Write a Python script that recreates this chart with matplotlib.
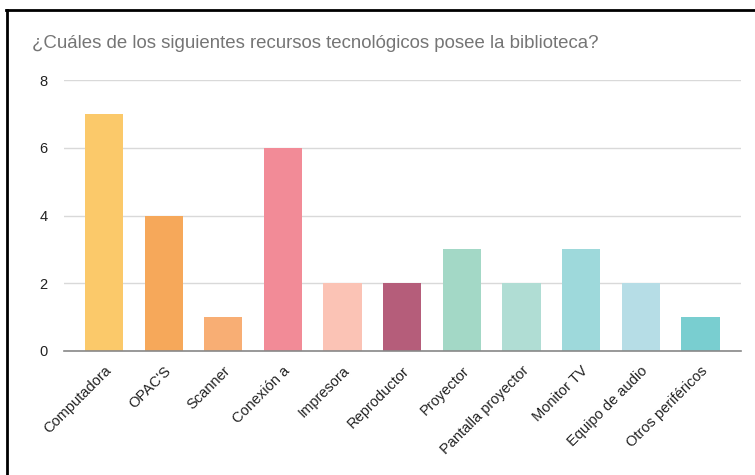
import matplotlib
matplotlib.use("Agg")
import matplotlib.pyplot as plt
from matplotlib.lines import Line2D

plt.rcParams['font.family'] = ['Liberation Sans', 'DejaVu Sans']

TITLE = "¿Cuáles de los siguientes recursos tecnológicos posee la biblioteca?"
categories = ["Computadora", "OPAC'S", "Scanner", "Conexión a", "Impresora", "Reproductor",
              "Proyector", "Pantalla proyector", "Monitor TV", "Equipo de audio", "Otros periféricos"]
values = [7, 4, 1, 6, 2, 2, 3, 2, 3, 2, 1]
colors = ["#FBC96A", "#F6A85A", "#F8AE74", "#F28B97", "#FBC3B5", "#B55D7A",
          "#A3D8C6", "#B0DDD4", "#9ED9DB", "#B6DDE6", "#79CED0"]
yticks = [0, 2, 4, 6, 8]

W, H = 755, 475
fig = plt.figure(figsize=(W / 100, H / 100), dpi=100)
ax = fig.add_axes([64 / W, 1 - 351 / H, (741 - 64) / W, (351 - 80) / H])

xs = range(len(categories))
ax.bar(xs, values, width=0.64, color=colors, zorder=3)

ax.set_xlim(-0.67, 10.68)
ax.set_ylim(0, 8)
ax.set_yticks(yticks)
ax.set_yticklabels([str(t) for t in yticks], fontsize=10.5, color="#222222")
ax.set_xticks(list(xs))
ax.set_xticklabels(categories, rotation=45, ha='right', rotation_mode='anchor',
                   fontsize=10.5, color="#222222")
ax.tick_params(axis='both', length=0)
ax.tick_params(axis='x', pad=9)
ax.tick_params(axis='y', pad=12)
ax.grid(axis='y', color="#D9D9D9", lw=1, zorder=0)
for s in ['top', 'right', 'left']:
    ax.spines[s].set_visible(False)
ax.spines['bottom'].set_color("#888888")
ax.spines['bottom'].set_linewidth(1.2)
ax.spines['bottom'].set_zorder(4)

fig.text(32 / W, 1 - 44 / H, TITLE, fontsize=13.4, color="#757575", va='center', ha='left')

# outer frame (top and left edges)
fig.add_artist(Line2D([6 / W, 1], [1 - 10 / H, 1 - 10 / H], color="black", lw=2))
fig.add_artist(Line2D([7 / W, 7 / W], [0, 1 - 10 / H], color="black", lw=2))

fig.savefig("out.png", dpi=100)
